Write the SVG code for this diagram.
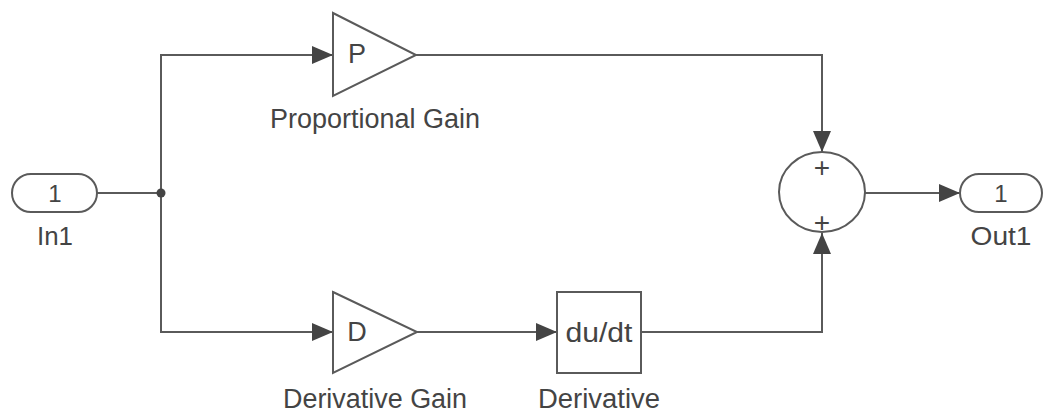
<svg xmlns="http://www.w3.org/2000/svg" width="1044" height="416" viewBox="0 0 1044 416">
<style>
.blk{fill:#ffffff;stroke:#5a5a5a;stroke-width:2}
.wire{fill:none;stroke:#5a5a5a;stroke-width:2}
.t{font-family:"Liberation Sans",Arial,sans-serif;fill:#444444;text-anchor:middle}
.lbl{font-size:27px}
.in{font-size:25px}
.pl{font-size:28px}
</style>
<defs>
<marker id="arr" markerUnits="userSpaceOnUse" markerWidth="22" markerHeight="20" refX="21" refY="9" orient="auto">
<path d="M0,0 L21,9 L0,18 z" fill="#444444"/>
</marker>
</defs>
<rect width="1044" height="416" fill="#ffffff"/>
<g id="connectors">
<path class="wire" d="M97,193 H161"/>
<path class="wire" d="M161,193 V55 H333" marker-end="url(#arr)"/>
<path class="wire" d="M161,193 V332 H333" marker-end="url(#arr)"/>
<path class="wire" d="M416,55 H822 V152" marker-end="url(#arr)"/>
<path class="wire" d="M417,332 H557" marker-end="url(#arr)"/>
<path class="wire" d="M641,332 H822 V233" marker-end="url(#arr)"/>
<path class="wire" d="M865,193 H960" marker-end="url(#arr)"/>
<circle cx="161" cy="193" r="4.5" fill="#444444"/>
</g>
<g id="In1">
<rect class="blk" x="12" y="174" width="85" height="38" rx="19"/>
<text class="t" x="55" y="202" font-size="24">1</text>
<text class="t in" x="55" y="245" textLength="36" lengthAdjust="spacingAndGlyphs">In1</text>
</g>
<g id="ProportionalGain">
<path class="blk" d="M333,13 L416,55 L333,96 z"/>
<text class="t" x="357" y="63" font-size="27">P</text>
<text class="t lbl" x="375" y="128" textLength="210" lengthAdjust="spacingAndGlyphs">Proportional Gain</text>
</g>
<g id="DerivativeGain">
<path class="blk" d="M333,292 L417,332 L333,373 z"/>
<text class="t" x="357" y="341" font-size="27">D</text>
<text class="t lbl" x="375" y="408" textLength="184" lengthAdjust="spacingAndGlyphs">Derivative Gain</text>
</g>
<g id="Derivative">
<rect class="blk" x="557" y="292" width="84" height="81"/>
<text class="t" x="599" y="342" font-size="27" textLength="67" lengthAdjust="spacingAndGlyphs">du/dt</text>
<text class="t lbl" x="599" y="408" textLength="122" lengthAdjust="spacingAndGlyphs">Derivative</text>
</g>
<g id="Sum">
<ellipse class="blk" cx="822" cy="192" rx="43" ry="40"/>
<text class="t pl" x="822" y="177">+</text>
<text class="t pl" x="822" y="232">+</text>
</g>
<g id="Out1">
<rect class="blk" x="960" y="174" width="82" height="38" rx="19"/>
<text class="t" x="1001" y="202" font-size="24">1</text>
<text class="t in" x="1001" y="245" textLength="61" lengthAdjust="spacingAndGlyphs">Out1</text>
</g>
</svg>
